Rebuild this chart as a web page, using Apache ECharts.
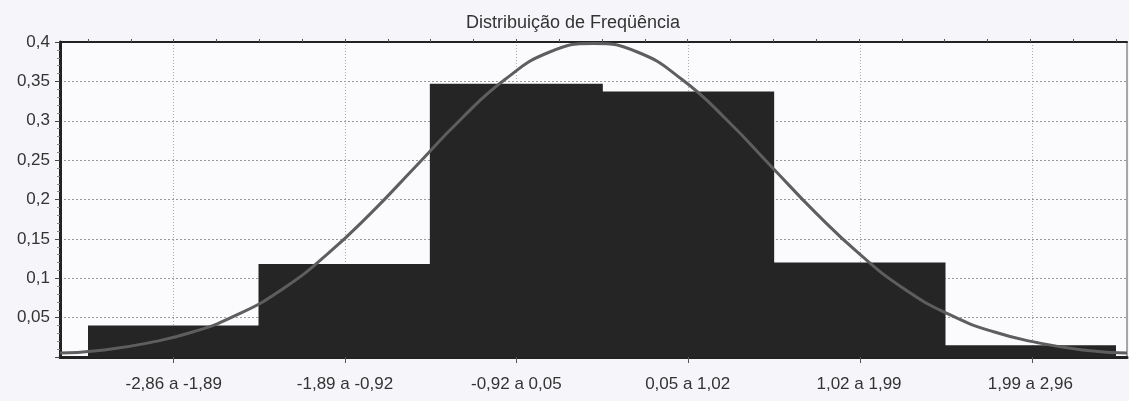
<!DOCTYPE html>
<html>
<head>
<meta charset="utf-8">
<script src="https://cdn.jsdelivr.net/npm/echarts@6/dist/echarts.min.js"></script>
<style>
  html, body { margin: 0; padding: 0; background: #f6f6fa; }
  #chart { width: 1129px; height: 401px; }
</style>
</head>
<body>
<div id="chart"></div>
<script>
// classes do histograma
const categories = ['-2,86 a -1,89', '-1,89 a -0,92', '-0,92 a 0,05', '0,05 a 1,02', '1,02 a 1,99', '1,99 a 2,96'];
const freq = [0.04, 0.118, 0.347, 0.337, 0.12, 0.015];

// curva normal
const curveX = [-3, -2.75, -2.5, -2.25, -2, -1.75, -1.5, -1.25, -1, -0.75, -0.5, -0.25, 0,
  0.25, 0.5, 0.75, 1, 1.25, 1.5, 1.75, 2, 2.25, 2.5, 2.75, 3];
const curveY = [0.005, 0.009, 0.018, 0.032, 0.054, 0.086, 0.13, 0.183, 0.242, 0.301, 0.352, 0.387, 0.398,
  0.387, 0.352, 0.301, 0.242, 0.183, 0.13, 0.086, 0.054, 0.032, 0.018, 0.009, 0.005];

const yTicks = { min: 0, max: 0.4, interval: 0.05 };
const textColor = '#333';
const font = 'Liberation Sans, Arial, sans-serif';

const chart = echarts.init(document.getElementById('chart'));
const gridPos = { top: 42, bottom: 44 };

chart.setOption({
  backgroundColor: '#f6f6fa',
  animation: false,
  title: {
    text: 'Distribuição de Freqüência',
    left: 568, top: 9, textAlign: 'center',
    textStyle: { fontFamily: font, fontSize: 18, fontWeight: 'normal', color: textColor },
  },
  grid: [
    { left: 60, right: 2, ...gridPos, show: true, backgroundColor: '#fbfbfd', borderColor: '#555', borderWidth: 1 },
    { left: 88, right: 13, ...gridPos },   // barras
    { left: 173, right: 97, ...gridPos },  // linhas verticais nos centros
  ],
  xAxis: [
    { // eixo da curva
      type: 'value', gridIndex: 0, min: -3, max: 3,
      axisLine: { show: true, onZero: false, lineStyle: { color: '#222', width: 3 } },
      axisTick: { show: false }, axisLabel: { show: false }, splitLine: { show: false },
    },
    { // borda superior
      type: 'value', gridIndex: 0, min: -3, max: 3, position: 'top',
      axisLine: { show: true, onZero: false, lineStyle: { color: '#222', width: 2 } },
      axisTick: { show: false }, axisLabel: { show: false }, splitLine: { show: false },
    },
    { // categorias
      type: 'category', gridIndex: 1, data: categories,
      axisLine: { show: false }, axisTick: { show: false }, splitLine: { show: false },
      axisLabel: { color: textColor, fontFamily: font, fontSize: 17, margin: 19 },
    },
    { // marcas menores
      type: 'value', gridIndex: 1, min: 0, max: 24, interval: 1,
      axisLine: { show: false }, axisLabel: { show: false }, splitLine: { show: false },
      axisTick: { show: true, length: 3, lineStyle: { color: '#555' } },
    },
    { // grade vertical
      type: 'value', gridIndex: 2, min: 0, max: 5, interval: 1,
      axisLine: { show: false }, axisLabel: { show: false },
      axisTick: { show: true, length: 6, lineStyle: { color: '#555' } },
      splitLine: { show: true, lineStyle: { color: '#aaa', type: [1, 2] } },
    },
  ],
  yAxis: [
    {
      type: 'value', gridIndex: 0, ...yTicks,
      axisLine: { show: true, onZero: false, lineStyle: { color: '#222', width: 3 } },
      axisTick: { show: true, length: 5, lineStyle: { color: '#444' } },
      minorTick: { show: true, splitNumber: 5, length: 3, lineStyle: { color: '#888' } },
      axisLabel: {
        color: textColor, fontFamily: font, fontSize: 17, margin: 10,
        formatter: v => (v === 0 ? '' : String(+v.toFixed(2)).replace('.', ',')),
      },
      splitLine: { show: true, lineStyle: { color: '#999', type: [2, 2] } },
    },
    { type: 'value', gridIndex: 1, ...yTicks, show: false },
    { type: 'value', gridIndex: 2, ...yTicks, show: false },
  ],
  series: [
    {
      type: 'bar', xAxisIndex: 2, yAxisIndex: 1, data: freq,
      barWidth: 173, barCategoryGap: 0,
      itemStyle: { color: '#252525', borderWidth: 0 }, z: 2,
    },
    {
      type: 'line', xAxisIndex: 0, yAxisIndex: 0,
      data: curveX.map((x, i) => [x, curveY[i]]),
      smooth: true, showSymbol: false,
      lineStyle: { color: '#5e5e5e', width: 3 }, z: 5,
    },
  ],
});
</script>
</body>
</html>
